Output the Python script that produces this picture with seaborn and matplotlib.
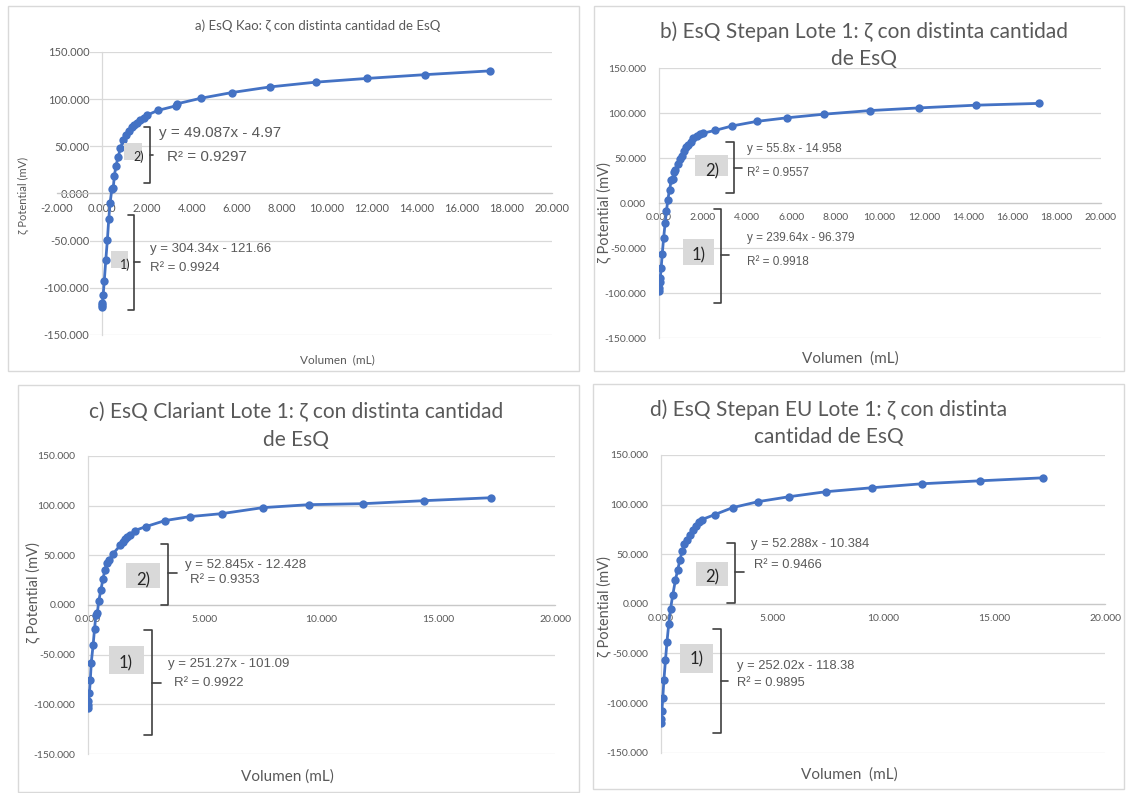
import matplotlib
matplotlib.use("Agg")
import matplotlib.pyplot as plt
from matplotlib.lines import Line2D
from matplotlib.patches import Rectangle
from matplotlib.ticker import FuncFormatter, MultipleLocator
import pandas as pd
import seaborn as sns

# Volumen de EsQ añadido (mL) y potencial zeta medido (mV)
vol_kao = [0.00, 0.01, 0.02, 0.05, 0.10, 0.17, 0.24, 0.30, 0.36, 0.44, 0.50, 0.55,
           0.62, 0.72, 0.82, 0.95, 1.08, 1.20, 1.32, 1.44, 1.56, 1.70, 1.85, 2.00,
           2.47, 3.30, 3.32, 4.40, 5.77, 7.47, 9.49, 11.78, 14.37, 17.25]
zeta_kao = [-120, -118, -116, -108, -93, -70, -49, -27, -10, 5, 6, 19,
            29, 39, 48, 57, 62, 66, 70, 73, 75, 78, 80, 83,
            88, 93, 95, 101, 107, 113, 118, 122, 126, 130]

vol_stepan = [0.00, 0.02, 0.05, 0.08, 0.12, 0.17, 0.23, 0.30, 0.36, 0.42, 0.50, 0.58,
              0.64, 0.70, 0.76, 0.86, 0.95, 1.05, 1.15, 1.25, 1.35, 1.45, 1.58, 1.72,
              1.88, 2.03, 2.56, 3.34, 4.44, 5.81, 7.48, 9.55, 11.79, 14.34, 17.20]
zeta_stepan = [-97, -94, -88, -83, -72, -56, -39, -22, -9, 4, 15, 26,
               27, 35, 37, 44, 49, 53, 58, 62, 65, 68, 72, 75,
               77, 78, 81, 86, 91, 95, 99, 103, 106, 109, 111]

vol_clariant = [0.00, 0.00, 0.01, 0.06, 0.10, 0.14, 0.22, 0.28, 0.34, 0.40, 0.46, 0.55,
                0.64, 0.72, 0.80, 0.90, 1.05, 1.38, 1.48, 1.58, 1.68, 1.78, 2.01, 2.49,
                3.30, 4.37, 5.74, 7.48, 9.46, 11.79, 14.37, 17.27]
zeta_clariant = [-104, -101, -97, -89, -75, -58, -40, -24, -10, -8, 4, 15,
                 26, 35, 42, 45, 51, 60, 63, 66, 68, 70, 75, 79,
                 85, 89, 92, 98, 101, 102, 105, 108]

vol_stepan_eu = [0.00, 0.02, 0.04, 0.08, 0.13, 0.20, 0.27, 0.35, 0.43, 0.53, 0.65, 0.75,
                 0.85, 0.95, 1.05, 1.18, 1.30, 1.42, 1.56, 1.70, 1.85, 2.43, 3.23, 4.38,
                 5.78, 7.43, 9.50, 11.75, 14.37, 17.20]
zeta_stepan_eu = [-120, -116, -108, -95, -77, -57, -38, -20, -5, 9, 24, 34,
                  44, 53, 60, 64, 69, 74, 78, 82, 85, 90, 97, 103,
                  108, 113, 117, 121, 124, 127]

titles = [
    "a) EsQ Kao: ζ con distinta cantidad de EsQ",
    "b) EsQ Stepan Lote 1: ζ con distinta cantidad\nde EsQ",
    "c) EsQ Clariant Lote 1: ζ con distinta cantidad\nde EsQ",
    "d) EsQ Stepan EU Lote 1: ζ con distinta\ncantidad de EsQ",
]
xlabels = ["Volumen  (mL)", "Volumen  (mL)", "Volumen (mL)", "Volumen  (mL)"]
ylabel = "ζ Potential (mV)"
eq2 = [("y = 49.087x - 4.97", "R² = 0.9297"), ("y = 55.8x - 14.958", "R² = 0.9557"),
       ("y = 52.845x - 12.428", "R² = 0.9353"), ("y = 52.288x - 10.384", "R² = 0.9466")]
eq1 = [("y = 304.34x - 121.66", "R² = 0.9924"), ("y = 239.64x - 96.379", "R² = 0.9918"),
       ("y = 251.27x - 101.09", "R² = 0.9922"), ("y = 252.02x - 118.38", "R² = 0.9895")]
series = [(vol_kao, zeta_kao), (vol_stepan, zeta_stepan),
          (vol_clariant, zeta_clariant), (vol_stepan_eu, zeta_stepan_eu)]
x_ranges = [(-2, 20, 2), (0, 20, 2), (0, 20, 5), (0, 20, 5)]

W, H = 1127, 793
sns.set_theme(style="white")
plt.rcParams["font.family"] = ["Lato", "DejaVu Sans"]

fig = plt.figure(figsize=(W / 100, H / 100), dpi=100)
fig.patch.set_facecolor("white")


def fx(x):
    return x / W


def fy(y):
    return 1 - y / H


# layout in pixels: frame box, plot rect (left, right, top, bottom), text placement
layout = [
    dict(box=(8, 6, 579, 371), rect=(57, 552, 52, 335), tfs=9.5, title_xy=(318, 26),
         ylab_xy=(23, 195), ylab_fs=8, xlab_xy=(337, 360), xlab_fs=8.5, tick_fs=8,
         b2=dict(x=150, top=127, bot=183, hook=144, nub=(155, 153)),
         g2=(124, 143, 142, 160), l2=(139, 157), lfs=9,
         e2=((159, 133), (167, 157)), efs2=11,
         b1=dict(x=134, top=215, bot=310, hook=128, nub=(262, 140)),
         g1=(111, 251, 128, 268), l1=(125, 265),
         e1=((150, 249), (150, 268)), efs1=9.5),
    dict(box=(594, 6, 1124, 371), rect=(658.5, 1100.7, 68.3, 338.3), tfs=15, title_xy=(864, 45),
         ylab_xy=(604, 213), ylab_fs=10.5, xlab_xy=(850, 359), xlab_fs=11, tick_fs=7.5,
         b2=dict(x=733.5, top=142, bot=193, hook=726, nub=(168, 742)),
         g2=(695, 155, 728, 176), l2=(712, 171), lfs=12,
         e2=((747, 149), (747, 173)), efs2=8.5,
         b1=dict(x=721, top=209, bot=303, hook=714, nub=(255, 729)),
         g1=(683, 239, 714, 265), l1=(699, 255),
         e1=((747, 238), (747, 262)), efs1=8.5),
    dict(box=(18, 385, 579, 792), rect=(88, 555, 456, 754), tfs=15, title_xy=(296, 426),
         ylab_xy=(33, 593), ylab_fs=10.5, xlab_xy=(287, 777), xlab_fs=11, tick_fs=7.5,
         b2=dict(x=168, top=544, bot=605, hook=161, nub=(573, 177)),
         g2=(126, 563, 160, 588), l2=(143.5, 580), lfs=12,
         e2=((185, 565), (190.5, 580)), efs2=9.5,
         b1=dict(x=152, top=630, bot=735, hook=144, nub=(683, 161)),
         g1=(109, 646, 143.5, 674), l1=(126, 663),
         e1=((168, 664), (174, 683)), efs1=9.5),
    dict(box=(593, 384, 1124, 789), rect=(661, 1105, 455, 752.7), tfs=15, title_xy=(829, 423),
         ylab_xy=(604, 607), ylab_fs=10.5, xlab_xy=(849, 775), xlab_fs=11, tick_fs=7.5,
         b2=dict(x=735, top=543, bot=603, hook=727, nub=(572, 744)),
         g2=(696, 562, 728, 586), l2=(712.5, 577), lfs=12,
         e2=((751, 544), (754, 565)), efs2=9.3,
         b1=dict(x=721, top=629, bot=733, hook=712.5, nub=(681, 728)),
         g1=(680, 644, 713, 673), l1=(697, 659),
         e1=((737, 666), (737, 683)), efs1=9.3),
]

BLUE = "#4472C4"
GRID = "#d9d9d9"
TXT = "#595959"
BRACE = "#404040"

for i, L in enumerate(layout):
    l, r, t, b = L["rect"]
    ax = fig.add_axes([fx(l), fy(b), (r - l) / W, (b - t) / H])
    ax.set_facecolor("none")
    vol, zeta = series[i]
    df = pd.DataFrame({"vol": vol, "zeta": zeta})
    sns.lineplot(data=df, x="vol", y="zeta", ax=ax, estimator=None, sort=False,
                 color=BLUE, linewidth=2.0, marker="o", markersize=6,
                 markeredgewidth=0, zorder=3)
    x0, x1, step = x_ranges[i]
    ax.set_xlim(x0, x1)
    ax.set_ylim(-150, 150)
    ax.xaxis.set_major_locator(MultipleLocator(step))
    ax.yaxis.set_major_locator(MultipleLocator(50))
    fmt = FuncFormatter(lambda v, _: f"{v:.3f}")
    ax.xaxis.set_major_formatter(fmt)
    ax.yaxis.set_major_formatter(fmt)
    ax.set_xlabel("")
    ax.set_ylabel("")
    ax.grid(axis="y", color=GRID, linewidth=0.9)
    ax.grid(axis="x", visible=False)
    ax.set_axisbelow(True)
    for s in ("top", "right"):
        ax.spines[s].set_visible(False)
    ax.spines["bottom"].set_position(("data", 0))
    ax.spines["left"].set_position(("data", 0))
    ax.spines["bottom"].set_color("#c8c8c8")
    ax.spines["left"].set_color(GRID)
    ax.spines["bottom"].set_linewidth(0.9)
    ax.spines["left"].set_linewidth(0.9)
    ax.tick_params(axis="both", length=0, labelsize=L["tick_fs"], labelcolor=TXT)
    ax.tick_params(axis="x", pad=7)
    ax.tick_params(axis="y", pad=9)
    if i == 0:
        for lab in ax.get_yticklabels():
            lab.set_bbox(dict(facecolor="white", edgecolor="none", pad=0.5))

    # frame around each chart
    bx0, by0, bx1, by1 = L["box"]
    fig.add_artist(Rectangle((fx(bx0), fy(by1)), (bx1 - bx0) / W, (by1 - by0) / H,
                             transform=fig.transFigure, facecolor="none",
                             edgecolor=GRID, linewidth=1.0))

    fig.text(fx(L["title_xy"][0]), fy(L["title_xy"][1]), titles[i], ha="center",
             va="center", fontsize=L["tfs"], color=TXT, linespacing=1.45)
    fig.text(fx(L["ylab_xy"][0]), fy(L["ylab_xy"][1]), ylabel, rotation=90,
             ha="center", va="center", fontsize=L["ylab_fs"], color=TXT)
    fig.text(fx(L["xlab_xy"][0]), fy(L["xlab_xy"][1]), xlabels[i], ha="center",
             va="center", fontsize=L["xlab_fs"], color=TXT)

    # braces grouping the two linear regions, with their labels and fits
    for key_b, key_g, key_l, key_e, eqs, efs, tag in (
            ("b2", "g2", "l2", "e2", eq2[i], L["efs2"], "2)"),
            ("b1", "g1", "l1", "e1", eq1[i], L["efs1"], "1)")):
        B = L[key_b]
        xs = [B["hook"], B["x"], B["x"], B["hook"]]
        ys = [B["top"], B["top"], B["bot"], B["bot"]]
        fig.add_artist(Line2D([fx(v) for v in xs], [fy(v) for v in ys],
                              transform=fig.transFigure, color=BRACE, linewidth=1.2))
        ny, nx = B["nub"]
        fig.add_artist(Line2D([fx(B["x"]), fx(nx)], [fy(ny), fy(ny)],
                              transform=fig.transFigure, color=BRACE, linewidth=1.2))
        gx0, gy0, gx1, gy1 = L[key_g]
        fig.add_artist(Rectangle((fx(gx0), fy(gy1)), (gx1 - gx0) / W, (gy1 - gy0) / H,
                                 transform=fig.transFigure, facecolor="#d9d9d9",
                                 edgecolor="none", zorder=2))
        fig.text(fx(L[key_l][0]), fy(L[key_l][1]), tag, ha="center", va="center",
                 fontsize=L["lfs"], color="#262626", zorder=4)
        (ex1, ey1), (ex2, ey2) = L[key_e]
        fig.text(fx(ex1), fy(ey1), eqs[0], ha="left", va="center", fontsize=efs,
                 color=TXT, family=["Liberation Sans", "DejaVu Sans"])
        fig.text(fx(ex2), fy(ey2), eqs[1], ha="left", va="center", fontsize=efs,
                 color=TXT, family=["Liberation Sans", "DejaVu Sans"])

fig.savefig("out.png", dpi=100, facecolor="white")
